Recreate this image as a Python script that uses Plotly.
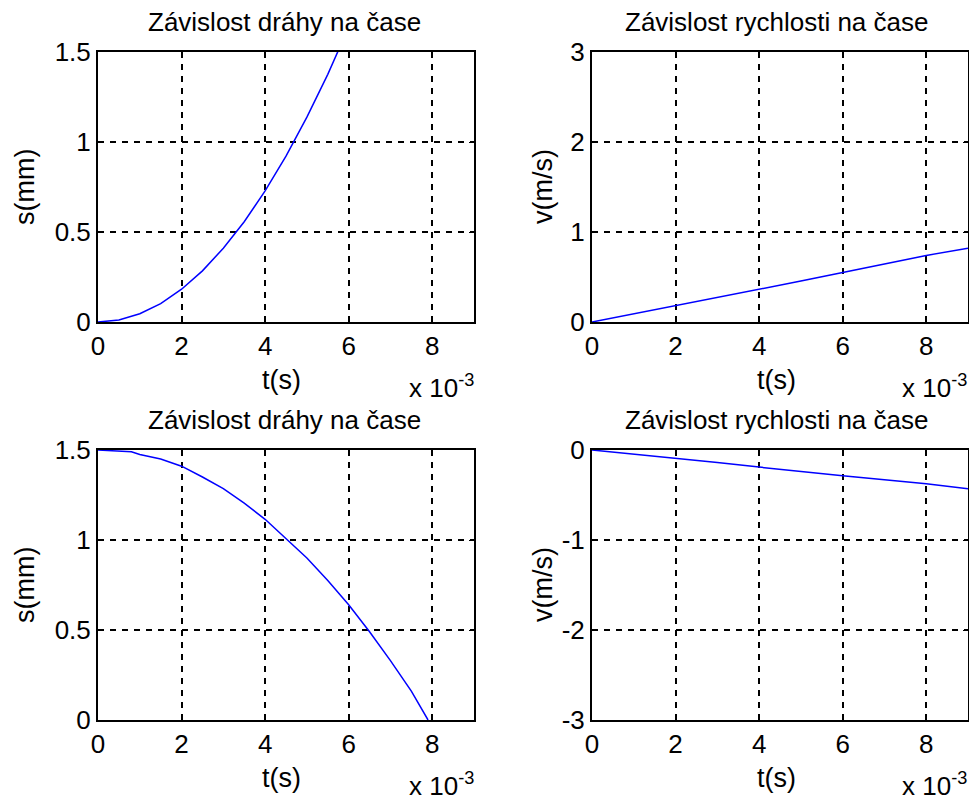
import plotly.graph_objects as go

# ---- data (time in ms, shown on axis with "x 10^-3" multiplier) ----
t_s_up = [0, 0.5, 1.0, 1.5, 2.0, 2.5, 3.0, 3.5, 4.0, 4.5, 5.0, 5.5, 6.0]
s_up = [0, 0.011, 0.046, 0.102, 0.182, 0.284, 0.41, 0.557, 0.728, 0.921, 1.138, 1.376, 1.638]

t_v_up = [0, 1, 2, 3, 4, 5, 6, 7, 8, 9]
v_up = [0, 0.09, 0.18, 0.27, 0.36, 0.455, 0.55, 0.645, 0.74, 0.82]

t_s_down = [0, 0.8, 1.0, 1.5, 2.0, 2.5, 3.0, 3.5, 4.0, 4.5, 5.0, 5.5, 6.0, 6.5, 7.0, 7.5, 7.9]
s_down = [1.5, 1.49, 1.475, 1.45, 1.41, 1.35, 1.285, 1.205, 1.115, 1.01, 0.90, 0.775, 0.64, 0.49, 0.33, 0.16, 0.0]

t_v_down = [0, 1, 2, 3, 4, 5, 6, 7, 8, 9]
v_down = [0, -0.045, -0.095, -0.14, -0.19, -0.24, -0.285, -0.33, -0.375, -0.43]

x_ticks = [0, 2, 4, 6, 8]
y_ticks_s = [0, 0.5, 1, 1.5]
y_ticks_s_text = ["0", "0.5", "1", "1.5"]
y_ticks_v_up = [0, 1, 2, 3]
y_ticks_v_down = [-3, -2, -1, 0]

title_s = "Závislost dráhy na čase"
title_v = "Závislost rychlosti na čase"
xlabel = "t(s)"
ylabel_s = "s(mm)"
ylabel_v = "v(m/s)"
multiplier = "x 10<sup>-3</sup>"

W, H = 969, 803
FONT = "Arial, Liberation Sans, sans-serif"
TICKFONT = dict(family=FONT, size=26, color="black")
LINE = dict(color="rgb(0,0,255)", width=1.5)

fig = go.Figure()
fig.add_trace(go.Scatter(x=t_s_up, y=s_up, mode="lines", line=LINE, xaxis="x", yaxis="y"))
fig.add_trace(go.Scatter(x=t_v_up, y=v_up, mode="lines", line=LINE, xaxis="x2", yaxis="y2"))
fig.add_trace(go.Scatter(x=t_s_down, y=s_down, mode="lines", line=LINE, xaxis="x3", yaxis="y3"))
fig.add_trace(go.Scatter(x=t_v_down, y=v_down, mode="lines", line=LINE, xaxis="x4", yaxis="y4"))

def px_x(p):
    return p / W

def px_y(p):
    return (H - p) / H

left_dom = [px_x(98), px_x(474)]
right_dom = [px_x(592), px_x(968)]
top_dom = [px_y(322), px_y(52)]
bot_dom = [px_y(720), px_y(450)]

def xax(dom, anchor):
    return dict(domain=dom, anchor=anchor, range=[0, 9], tickvals=x_ticks,
                ticktext=[str(v) for v in x_ticks], showgrid=True, gridcolor="black",
                gridwidth=1.5, griddash="6px,6px", showline=True, linecolor="black",
                linewidth=2, mirror="ticks", ticks="inside", ticklen=5, tickcolor="black",
                tickfont=TICKFONT, zeroline=False, automargin=False)

def yax(dom, anchor, rng, tv, tt):
    return dict(domain=dom, anchor=anchor, range=rng, tickvals=tv, ticktext=tt,
                showgrid=True, gridcolor="black", gridwidth=1.5, griddash="6px,6px",
                showline=True, linecolor="black", linewidth=2, mirror="ticks",
                ticks="inside", ticklen=5, tickcolor="black", tickfont=TICKFONT,
                zeroline=False, automargin=False)

fig.update_layout(
    width=W, height=H, margin=dict(l=0, r=0, t=0, b=0, pad=0, autoexpand=False),
    paper_bgcolor="white", plot_bgcolor="white", showlegend=False,
    xaxis=xax(left_dom, "y"),
    yaxis=yax(top_dom, "x", [0, 1.5], y_ticks_s, y_ticks_s_text),
    xaxis2=xax(right_dom, "y2"),
    yaxis2=yax(top_dom, "x2", [0, 3], y_ticks_v_up, [str(v) for v in y_ticks_v_up]),
    xaxis3=xax(left_dom, "y3"),
    yaxis3=yax(bot_dom, "x3", [0, 1.5], y_ticks_s, y_ticks_s_text),
    xaxis4=xax(right_dom, "y4"),
    yaxis4=yax(bot_dom, "x4", [-3, 0], y_ticks_v_down, [str(v) for v in y_ticks_v_down]),
)

ann = []
def text(s, x, y, size=26, angle=0, xanchor="center", yanchor="middle"):
    ann.append(dict(text=s, x=px_x(x), y=px_y(y), xref="paper", yref="paper",
                    showarrow=False, textangle=angle, xanchor=xanchor, yanchor=yanchor,
                    font=dict(family=FONT, size=size, color="black")))

for dy in (0, 398):
    text(title_s, 284, 22 + dy)
    text(title_v, 776, 22 + dy)
    text(xlabel, 281, 380 + dy, size=27)
    text(xlabel, 776, 380 + dy, size=27)
    text(ylabel_s, 25, 187 + dy, size=27, angle=-90)
    text(ylabel_v, 543, 187 + dy, size=27, angle=-90)
    text(multiplier, 476, 386 + dy, xanchor="right")
    text(multiplier, 969, 386 + dy, xanchor="right")

fig.update_layout(annotations=ann)
fig.write_html("out.html")
